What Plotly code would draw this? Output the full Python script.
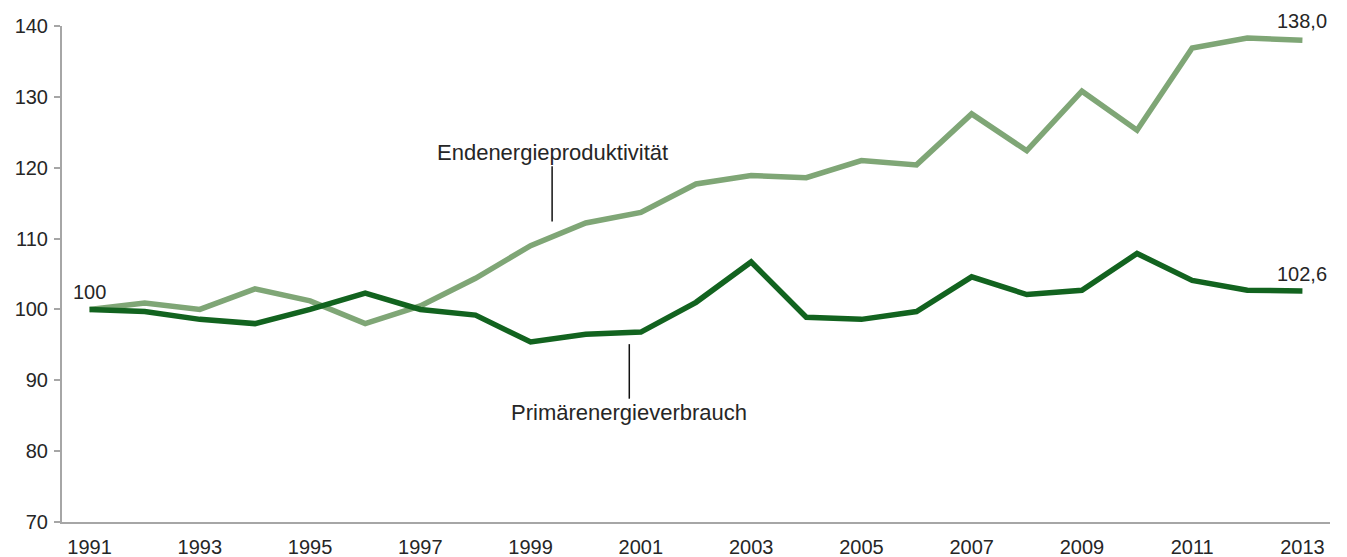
import plotly.graph_objects as go

years = list(range(1991, 2014))
endenergieproduktivitaet = [100.0, 100.9, 100.0, 102.9, 101.2, 98.0, 100.5, 104.4, 109.0, 112.2,
                            113.7, 117.7, 118.9, 118.6, 121.0, 120.4, 127.6, 122.4, 130.8, 125.3,
                            136.9, 138.3, 138.0]
primaerenergieverbrauch = [100.0, 99.7, 98.6, 98.0, 100.0, 102.3, 100.0, 99.2, 95.4, 96.5,
                           96.8, 101.0, 106.7, 98.9, 98.6, 99.7, 104.6, 102.1, 102.7, 107.9,
                           104.1, 102.7, 102.6]
tick_years = list(range(1991, 2014, 2))
y_ticks = [70, 80, 90, 100, 110, 120, 130, 140]

light = "#7fa676"
dark = "#12631f"
font = "Liberation Sans, Arial, sans-serif"
txt = "#262626"

fig = go.Figure()
fig.add_trace(go.Scatter(x=years, y=endenergieproduktivitaet, mode="lines",
                         line=dict(color=light, width=5.5), name="Endenergieproduktivität"))
fig.add_trace(go.Scatter(x=years, y=primaerenergieverbrauch, mode="lines",
                         line=dict(color=dark, width=5.5), name="Primärenergieverbrauch"))

val_font = dict(family=font, size=20, color=txt)
name_font = dict(family=font, size=22, color=txt)
annotations = [
    dict(x=years[0], y=primaerenergieverbrauch[0], text="100", showarrow=False,
         xanchor="center", yanchor="bottom", yshift=4, font=val_font),
    dict(x=years[-1], y=endenergieproduktivitaet[-1], text="138,0", showarrow=False,
         xanchor="center", yanchor="bottom", yshift=6, font=val_font),
    dict(x=years[-1], y=primaerenergieverbrauch[-1], text="102,6", showarrow=False,
         xanchor="center", yanchor="bottom", yshift=4, font=val_font),
    dict(x=1999.39, y=122.1, text="Endenergieproduktivität", showarrow=False,
         xanchor="center", yanchor="middle", font=name_font),
    dict(x=2000.79, y=85.4, text="Primärenergieverbrauch", showarrow=False,
         xanchor="center", yanchor="middle", font=name_font),
]
shapes = [
    dict(type="line", x0=1999.39, x1=1999.39, y0=120.2, y1=112.4, xref="x", yref="y",
         line=dict(color="#111111", width=1.5)),
    dict(type="line", x0=2000.79, x1=2000.79, y0=95.1, y1=87.4, xref="x", yref="y",
         line=dict(color="#111111", width=1.5)),
]

# the page body adds an 8px offset, so the figure is sized/margined to compensate
fig.update_layout(
    width=1339, height=549,
    margin=dict(l=54, r=17, t=18, b=35),
    paper_bgcolor="white", plot_bgcolor="white",
    showlegend=False,
    annotations=annotations, shapes=shapes,
    font=dict(family=font, size=20, color=txt),
)
fig.update_xaxes(range=[1990.5, 2013.5], tickmode="array", tickvals=tick_years,
                 ticktext=[str(t) for t in tick_years], showgrid=False, zeroline=False,
                 showline=True, linecolor="#a6a6a6", linewidth=2, ticks="",
                 ticklabelstandoff=6,
                 automargin=False, tickfont=dict(family=font, size=20, color=txt))
fig.update_yaxes(range=[70, 140], tickmode="array", tickvals=y_ticks, showgrid=False,
                 zeroline=False, showline=True, linecolor="#a6a6a6", linewidth=2,
                 ticks="outside", ticklen=6, tickcolor="#a6a6a6", tickwidth=2,
                 ticklabelstandoff=2,
                 automargin=False, tickfont=dict(family=font, size=20, color=txt))

fig.write_html("out.html")
